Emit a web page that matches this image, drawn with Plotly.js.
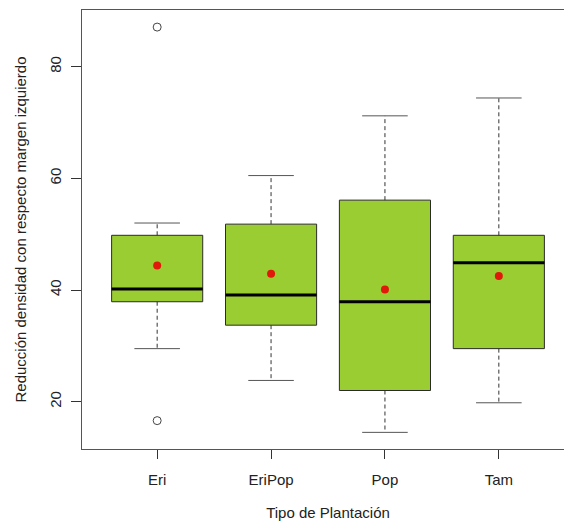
<!DOCTYPE html>
<html>
<head>
<meta charset="utf-8">
<script src="https://cdn.plot.ly/plotly-3.0.1.min.js"></script>
<style>
  html, body { margin: 0; padding: 0; overflow: hidden; background: #fff; }
  #chart { width: 590px; height: 525px; }
</style>
</head>
<body>
<div id="chart"></div>
<script>
// Plantation types and their box-plot summaries
const categories   = ['Eri', 'EriPop', 'Pop', 'Tam'];
const lowerWhisker = [29.5, 23.8, 14.5, 19.8];
const q1Values     = [37.9, 33.7, 22.0, 29.5];
const medianValues = [40.2, 39.1, 37.9, 44.9];
const q3Values     = [49.8, 51.8, 56.1, 49.8];
const upperWhisker = [52.0, 60.5, 71.2, 74.4];
const meanValues   = [44.4, 42.9, 40.1, 42.5];
const outlierGroup = ['Eri', 'Eri'];
const outlierValues = [87.1, 16.6];

const pos = categories.map((_, i) => i + 1);
const boxHalf = 0.4;
const capHalf = 0.2;

// helpers that build segment lists separated by nulls
function segs(fn) {
  const xs = [], ys = [];
  pos.forEach((p, i) => {
    const s = fn(p, i);
    s.forEach(seg => { xs.push(seg[0][0], seg[1][0], null); ys.push(seg[0][1], seg[1][1], null); });
  });
  return { x: xs, y: ys };
}

const whisk = segs((p, i) => [
  [[p, q3Values[i]], [p, upperWhisker[i]]],
  [[p, q1Values[i]], [p, lowerWhisker[i]]]
]);
const caps = segs((p, i) => [
  [[p - capHalf, upperWhisker[i]], [p + capHalf, upperWhisker[i]]],
  [[p - capHalf, lowerWhisker[i]], [p + capHalf, lowerWhisker[i]]]
]);
const meds = segs((p, i) => [
  [[p - boxHalf, medianValues[i]], [p + boxHalf, medianValues[i]]]
]);

const traces = [
  {
    type: 'box',
    x: pos,
    q1: q1Values,
    median: medianValues,
    q3: q3Values,
    lowerfence: q1Values,
    upperfence: q3Values,
    width: boxHalf * 2,
    whiskerwidth: 0,
    fillcolor: '#9ACD32',
    line: { color: '#2b2b2b', width: 1 },
    boxpoints: false,
    hoverinfo: 'skip',
    showlegend: false
  },
  {
    type: 'scatter', mode: 'lines', x: whisk.x, y: whisk.y,
    line: { color: '#333', width: 1, dash: '4px,3px' },
    hoverinfo: 'skip', showlegend: false
  },
  {
    type: 'scatter', mode: 'lines', x: caps.x, y: caps.y,
    line: { color: '#555', width: 1 },
    hoverinfo: 'skip', showlegend: false
  },
  {
    type: 'scatter', mode: 'lines', x: meds.x, y: meds.y,
    line: { color: '#000', width: 3 },
    hoverinfo: 'skip', showlegend: false
  },
  {
    type: 'scatter', mode: 'markers',
    x: outlierGroup.map(g => categories.indexOf(g) + 1), y: outlierValues,
    marker: { symbol: 'circle-open', size: 8, color: '#444', line: { width: 1 } },
    hoverinfo: 'skip', showlegend: false
  },
  {
    type: 'scatter', mode: 'markers', x: pos, y: meanValues,
    marker: { symbol: 'circle', size: 8, color: '#e0190b' },
    hoverinfo: 'skip', showlegend: false
  }
];

const font = { family: 'Liberation Sans, Arial, sans-serif', size: 15, color: '#222' };

const layout = {
  width: 590,
  height: 525,
  margin: { l: 82, r: 16, t: 10, b: 76 },
  paper_bgcolor: '#fff',
  plot_bgcolor: '#fff',
  font: font,
  showlegend: false,
  xaxis: {
    range: [0.34, 4.66],
    tickvals: pos,
    ticktext: categories,
    ticks: 'outside',
    ticklen: 9,
    tickcolor: '#333',
    ticklabelstandoff: 8,
    showgrid: false,
    zeroline: false,
    showline: true,
    mirror: true,
    linecolor: '#555',
    linewidth: 1,
    tickfont: font,
    title: { text: 'Tipo de Plantación', font: font, standoff: 20 }
  },
  yaxis: {
    range: [11.52, 90.16],
    tickvals: [20, 40, 60, 80],
    ticks: 'outside',
    ticklen: 10,
    tickcolor: '#333',
    tickangle: -90,
    ticklabelstandoff: 4,
    showgrid: false,
    zeroline: false,
    showline: true,
    mirror: true,
    linecolor: '#555',
    linewidth: 1,
    tickfont: font,
    title: { text: 'Reducción densidad con respecto margen izquierdo', font: font, standoff: 16 }
  }
};

Plotly.newPlot('chart', traces, layout, { displayModeBar: false, staticPlot: true });
</script>
</body>
</html>
